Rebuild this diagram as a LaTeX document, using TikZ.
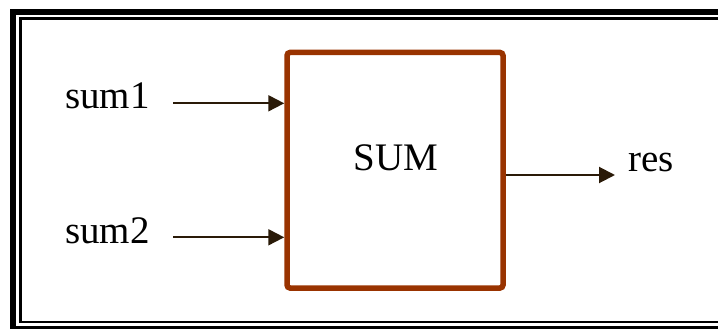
\documentclass[tikz,border=0pt]{standalone}
\usepackage{fontspec}
\setmainfont{Liberation Serif}
\usetikzlibrary{arrows.meta}
\definecolor{boxbrown}{HTML}{993300}
\definecolor{arrowdark}{HTML}{2A1A08}
\begin{document}
\begin{tikzpicture}[x=1pt,y=-1pt,
  lbl/.style={inner sep=0pt,font=\fontsize{39}{41}\selectfont},
  sumbox/.style={draw=boxbrown,line width=5.5pt,rounded corners=3pt,minimum width=216pt,minimum height=235.5pt,inner sep=0pt},
  conn/.style={draw=arrowdark,line width=2pt,-{Triangle[length=16pt,width=16pt]}}]
\useasboundingbox (0,0) rectangle (718,329);
% frame
\draw[line width=6pt] (13,12.5) rectangle (760,328.7);
\draw[line width=2.5pt] (20.5,18.7) rectangle (750,322);
% box
\node[sumbox] (box) at (395,170.25) {};
\node[lbl,anchor=base] (sumt) at (396,170) {SUM};
% inputs
\node[lbl,anchor=base west] (s1) at (65,108) {sum1};
\node[lbl,anchor=base west] (s2) at (65,243) {sum2};
\coordinate (a1) at (173,103.3);
\coordinate (a2) at (173,237.3);
\draw[conn] (a1) -- (a1 -| box.west);
\draw[conn] (a2) -- (a2 -| box.west);
% output
\node[lbl,anchor=base west] (res) at (628,171) {res};
\coordinate (o) at (615,175);
\draw[conn] (o -| box.east) -- (o);
\end{tikzpicture}
\end{document}
